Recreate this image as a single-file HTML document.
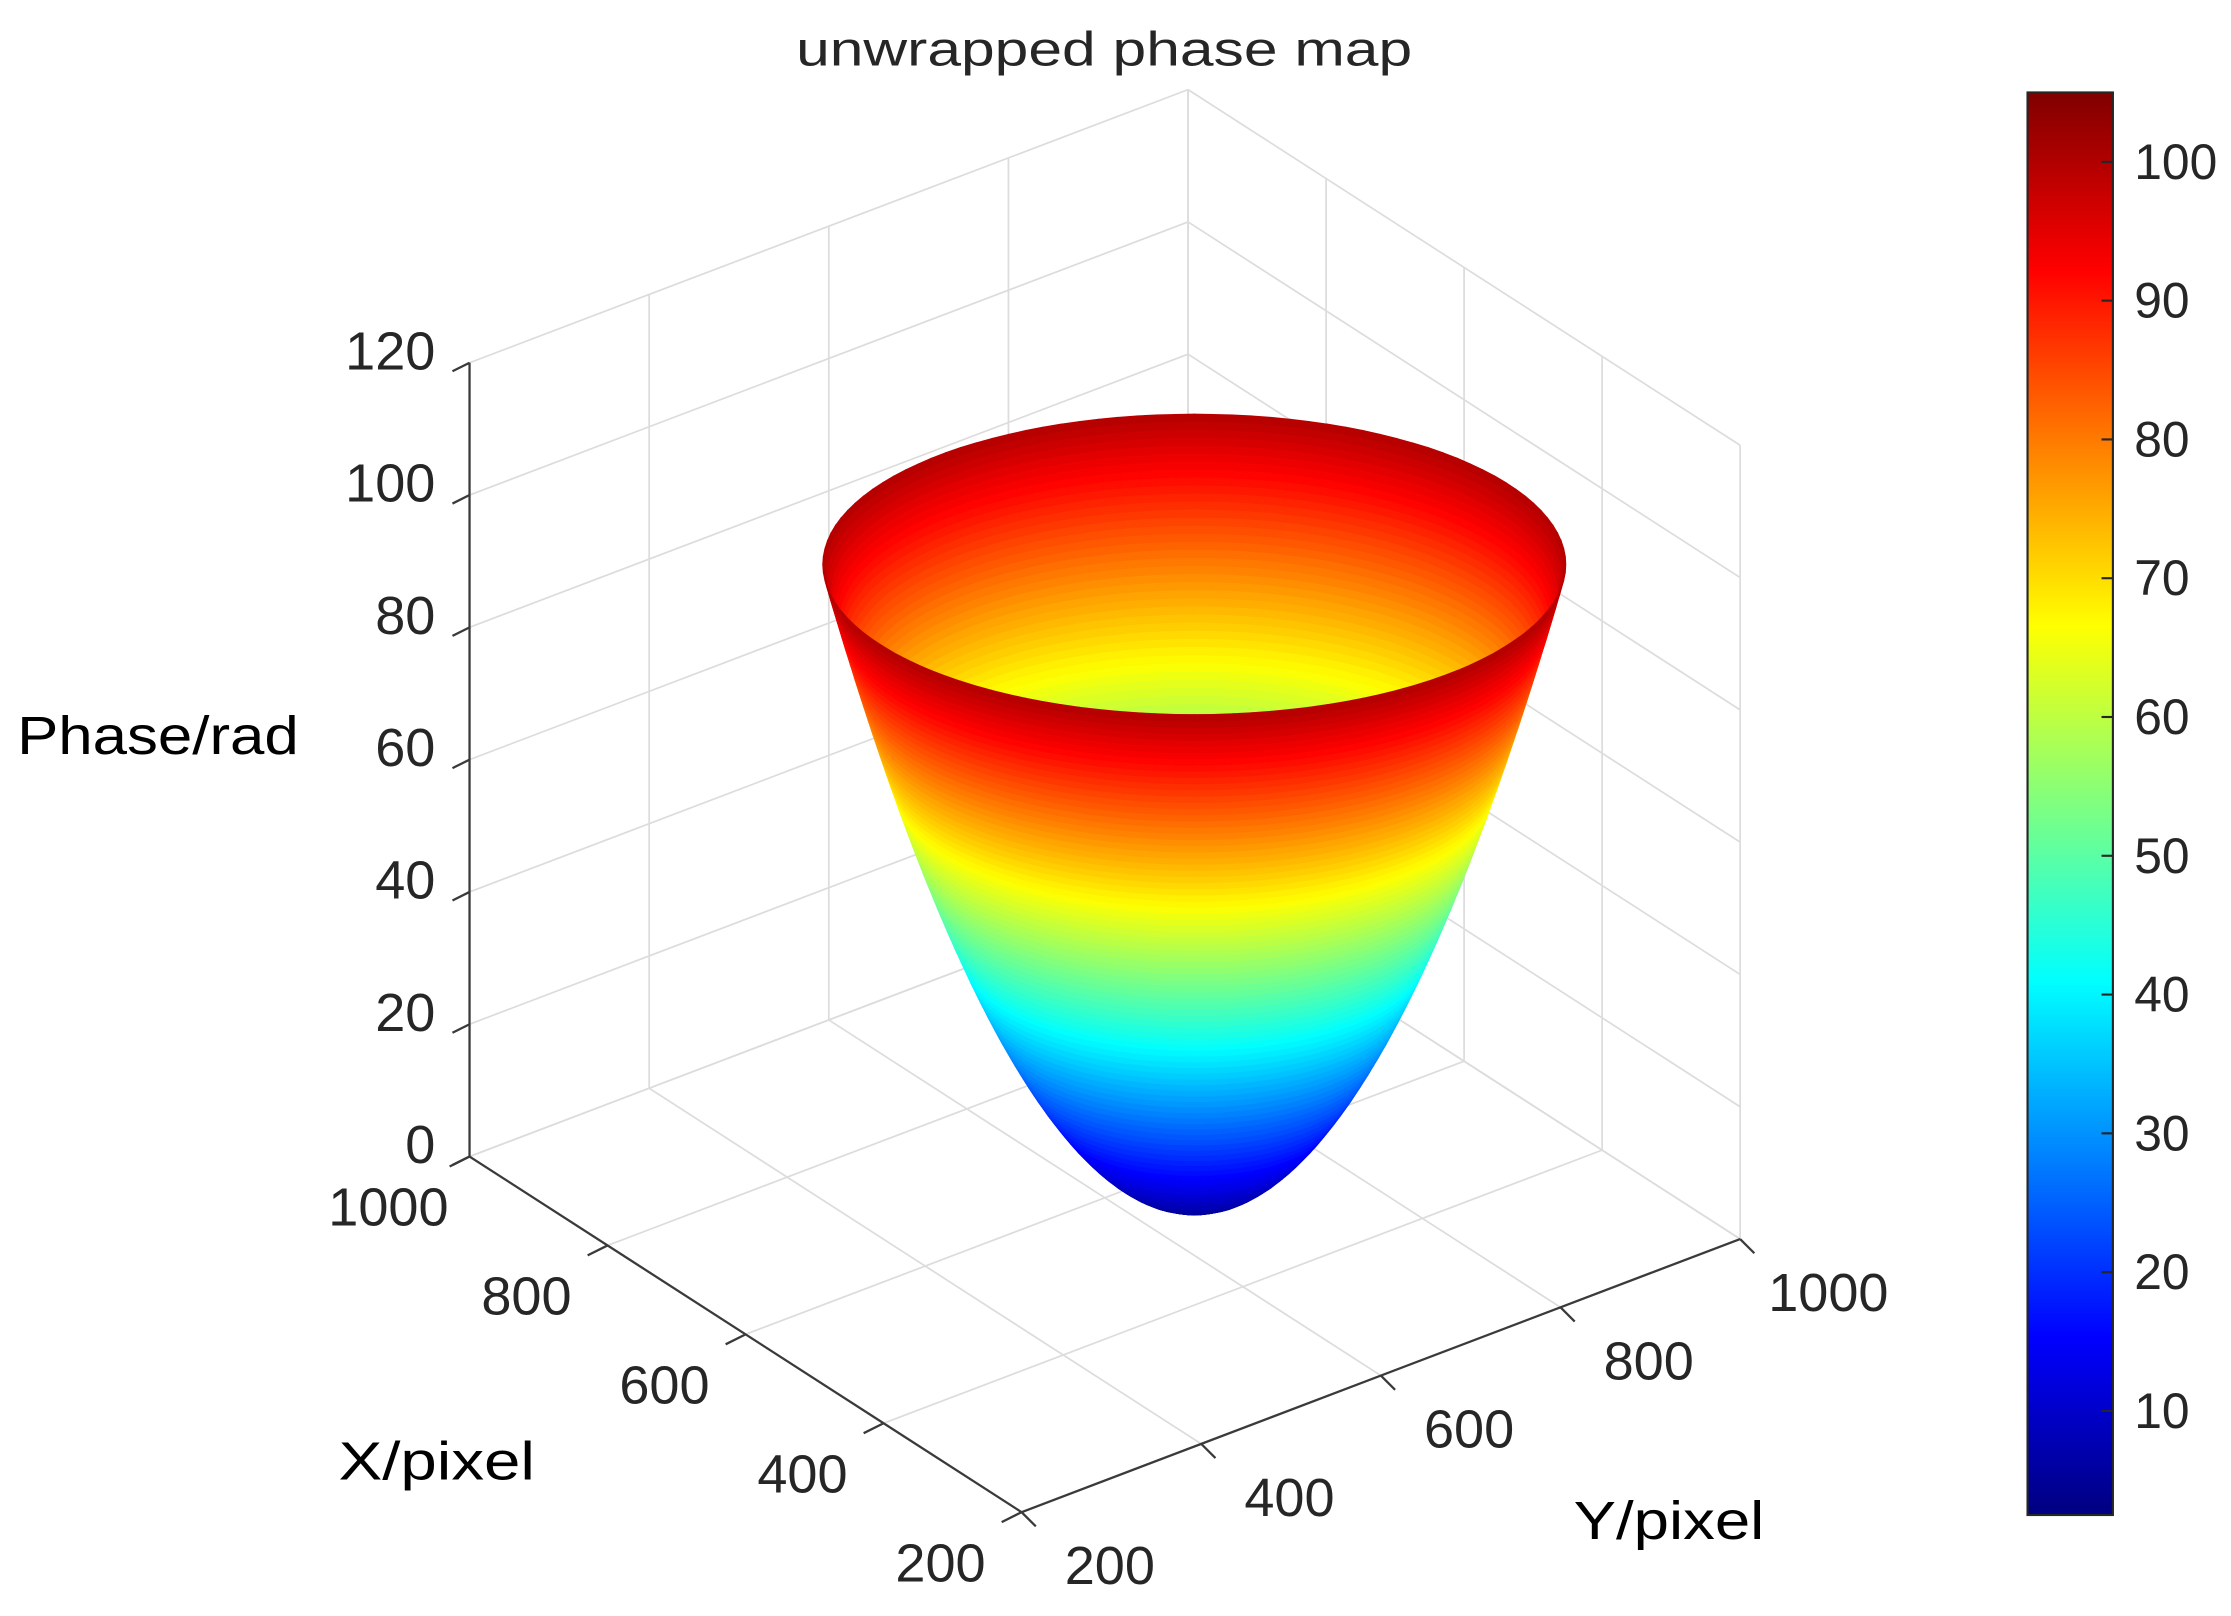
<!DOCTYPE html>
<html><head><meta charset="utf-8"><style>
html,body{margin:0;padding:0;background:#fff;}
svg{display:block;}
text{font-family:"Liberation Sans",Arial,sans-serif;fill:#262626;}
</style></head><body>
<svg id="chart" width="2231" height="1616" viewBox="0 0 1568 1136" preserveAspectRatio="none" xmlns="http://www.w3.org/2000/svg">
<g id="grid"></g>
<g id="axes"></g>
<g id="surface"></g>
<g id="labels"></g>
<g id="cbar"></g>
<text x="776" y="46" text-anchor="middle" font-size="34" textLength="433" lengthAdjust="spacingAndGlyphs">unwrapped phase map</text>
<text x="12" y="530" font-size="38" textLength="198" lengthAdjust="spacingAndGlyphs" style="fill:#000">Phase/rad</text>
<text x="238" y="1040" font-size="38" textLength="138" lengthAdjust="spacingAndGlyphs" style="fill:#000">X/pixel</text>
<text x="1106" y="1082" font-size="38" textLength="134" lengthAdjust="spacingAndGlyphs" style="fill:#000">Y/pixel</text>
</svg>
<script>
const xTicks=[200,400,600,800,1000];
const yTicks=[200,400,600,800,1000];
const zTicks=[0,20,40,60,80,100,120];
const cbarTicks=[10,20,30,40,50,60,70,80,90,100];
const cRange=[2.5,105];
const surfCenterX=[512];
const surfCenterY=[632];
const surfRadiusA=[328];
const surfRadiusB=[268];
const surfZ=[3,100]; // tip, rim

const NS="http://www.w3.org/2000/svg";
function P(X,Y,Z){const u=(1000-X)/800,v=(Y-200)/800;return [330+388*u+505*v,813+250*u-192*v-Z*558/120];}
function mk(tag,attrs,parent){const e=document.createElementNS(NS,tag);for(const k in attrs)e.setAttribute(k,attrs[k]);parent.appendChild(e);return e;}
function jet(t){t=Math.max(0,Math.min(1,t));const c=x=>Math.round(255*Math.max(0,Math.min(1,1.5-Math.abs(x))));return `rgb(${c(4*t-3)},${c(4*t-2)},${c(4*t-1)})`;}
function cmap(z){return jet((z-cRange[0])/(cRange[1]-cRange[0]));}
function line(g,a,b,col,w,name){const l=mk('line',{x1:a[0],y1:a[1],x2:b[0],y2:b[1],stroke:col,'stroke-width':w},g);

}

const grid=document.getElementById('grid'),gc='#dcdcdc';
zTicks.forEach(z=>{line(grid,P(1000,200,z),P(1000,1000,z),gc,1.2,'z-grid-left');line(grid,P(1000,1000,z),P(200,1000,z),gc,1.2,'z-grid-right');});
yTicks.forEach(y=>{line(grid,P(1000,y,0),P(1000,y,120),gc,1.2,'y-grid-wall');line(grid,P(1000,y,0),P(200,y,0),gc,1.2,'y-grid-floor');});
xTicks.forEach(x=>{line(grid,P(x,1000,0),P(x,1000,120),gc,1.2,'x-grid-wall');line(grid,P(x,200,0),P(x,1000,0),gc,1.2,'x-grid-floor');});

const ax=document.getElementById('axes'),ac='#3a3a3a';
line(ax,P(1000,200,0),P(1000,200,120),ac,1.6,'z-axis-line');
line(ax,P(1000,200,0),P(200,200,0),ac,1.6,'x-axis-line');
line(ax,P(200,200,0),P(200,1000,0),ac,1.6,'y-axis-line');
const lab=document.getElementById('labels');
function txt(s,x,y,anchor,size,name){const t=mk('text',{x:x,y:y,'text-anchor':anchor,'font-size':size,'dominant-baseline':'central'},lab);t.textContent=s;

}
zTicks.forEach(z=>{const p=P(1000,200,z);line(ax,p,[p[0]-12,p[1]+6],ac,1.6,'z-tick');txt(String(z),p[0]-24,p[1]-8,'end',38,'z-tick-label');});
xTicks.forEach(x=>{const p=P(x,200,0);line(ax,p,[p[0]-14,p[1]+7],ac,1.6,'x-tick');txt(String(x),p[0]-57,p[1]+36,'middle',38,'x-tick-label');});
yTicks.forEach(y=>{const p=P(200,y,0);line(ax,p,[p[0]+10,p[1]+10],ac,1.6,'y-tick');txt(String(y),p[0]+62,p[1]+38,'middle',38,'y-tick-label');});

// surface: elliptical paraboloid aligned with screen axes
const sg=document.getElementById('surface');
const e1=[192/315.3,250/315.3], e2=[505/636.8,-388/636.8];
const cu=(1000-surfCenterX[0])/800, cv=(surfCenterY[0]-200)/800;
const NR=90,NT=120,quads=[];
function sp(s,th){const a=surfRadiusA[0]/800*s, b=surfRadiusB[0]/800*s;
 const u=cu+a*Math.cos(th)*e1[0]+b*Math.sin(th)*e2[0], v=cv+a*Math.cos(th)*e1[1]+b*Math.sin(th)*e2[1];
 return {X:1000-800*u,Y:200+800*v,Z:surfZ[0]+(surfZ[1]-surfZ[0])*s*s,u,v};}
for(let i=0;i<NR;i++)for(let j=0;j<NT;j++){
 const s0=Math.sqrt(i/NR),s1=Math.sqrt((i+1)/NR),t0=j/NT*2*Math.PI,t1=(j+1)/NT*2*Math.PI;
 const pts=[sp(s0,t0),sp(s1,t0),sp(s1,t1),sp(s0,t1)];
 let d=0,z=0;pts.forEach(p=>{d+=505*p.u-388*p.v;z+=p.Z;});
 quads.push({pts,d:d/4,z:z/4});
}
quads.sort((a,b)=>a.d-b.d);
quads.forEach(q=>{const c=cmap(q.z);const pl=mk('polygon',{points:q.pts.map(p=>P(p.X,p.Y,p.Z).map(v=>v.toFixed(1)).join(',')).join(' '),fill:c,stroke:c,'stroke-width':0.8},sg);

});

// colorbar
const cb=document.getElementById('cbar');
const cbX=1425,cbW=60,cbTop=65,cbBot=1065;
function cy(v){return cbBot-(v-cRange[0])/(cRange[1]-cRange[0])*(cbBot-cbTop);}
const defs=mk('defs',{},cb);const lg=mk('linearGradient',{id:'jetg',x1:0,y1:1,x2:0,y2:0},defs);
for(let k=0;k<=32;k++){const t=k/32;mk('stop',{offset:t,'stop-color':jet(t)},lg);}
const r=mk('rect',{x:cbX,y:cbTop,width:cbW,height:cbBot-cbTop,fill:'url(#jetg)',stroke:'#262626','stroke-width':1.5},cb);


cbarTicks.forEach(v=>{const y=cy(v);line(cb,[cbX+cbW-8,y],[cbX+cbW,y],'#262626',1.5,'colorbar-tick');
const t=mk('text',{x:cbX+75,y:y,'font-size':35,'dominant-baseline':'central'},cb);t.textContent=String(v);

});
</script>
</body></html>
